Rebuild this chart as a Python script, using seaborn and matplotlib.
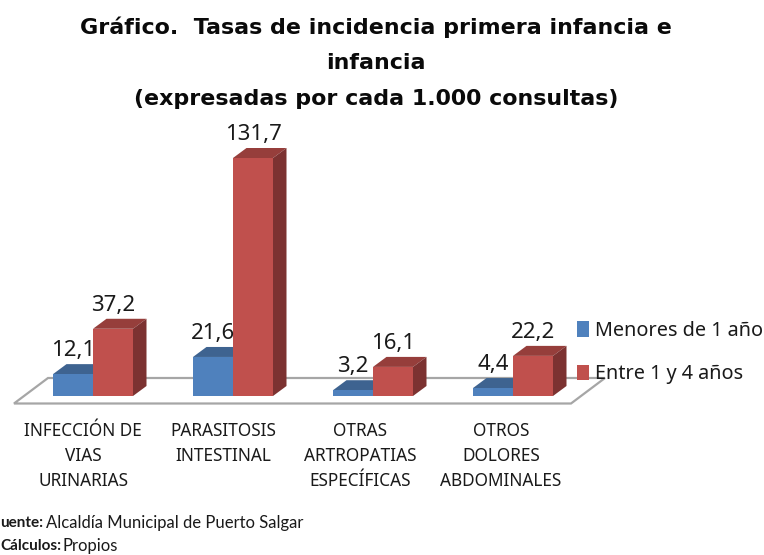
import matplotlib
matplotlib.use("Agg")
import matplotlib.pyplot as plt
from matplotlib.patches import Polygon
from matplotlib.transforms import ScaledTranslation
import pandas as pd
import seaborn as sns

categories = ["INFECCIÓN DE\nVIAS\nURINARIAS", "PARASITOSIS\nINTESTINAL\n ",
              "OTRAS\nARTROPATIAS\nESPECÍFICAS", "OTROS\nDOLORES\nABDOMINALES"]
series_names = ["Menores de 1 año", "Entre 1 y 4 años"]
menores = [12.1, 21.6, 3.2, 4.4]
entre = [37.2, 131.7, 16.1, 22.2]
labels_menores = ["12,1", "21,6", "3,2", "4,4"]
labels_entre = ["37,2", "131,7", "16,1", "22,2"]

W, H = 764, 555
FONT = "Noto Sans"
TXT = "#1a1a1a"
colors = ["#4F81BD", "#C0504D"]
top_colors = ["#3E6390", "#963E3B"]
side_colors = ["#345478", "#7C3231"]

sns.set_theme(style="white")
plt.rcParams["font.family"] = [FONT, "DejaVu Sans"]

df = pd.DataFrame({
    "cat": categories * 2,
    "val": menores + entre,
    "serie": [series_names[0]] * 4 + [series_names[1]] * 4,
})

fig = plt.figure(figsize=(W / 100, H / 100), dpi=100, facecolor="white")
ax = fig.add_axes([23 / W, (H - 396) / H, 560 / W, 253 / H])
ax.patch.set_alpha(0)

sns.barplot(data=df, x="cat", y="val", hue="serie", hue_order=series_names,
            palette=colors, saturation=1, width=80 / 140, gap=0,
            errorbar=None, ax=ax, linewidth=0, legend=True)
ax.set_xlim(-0.5, 3.5)
ax.set_ylim(0, 140)
ax.set_xlabel("")
ax.set_ylabel("")
ax.set_yticks([])
sns.despine(ax=ax, left=True, bottom=True)

# conversion of the pseudo-3D depth into data units
ux = 1 / 140      # data per pixel, x
uy = 140 / 253    # data per pixel, y
dx, dy = 13.5 * ux, 10 * uy

# floor plane
fl, fr = -0.5 + (14 - 23) * ux, -0.5 + (571 - 23) * ux
fy0 = -7.5 * uy
fy1 = 18 * uy
floor_shift = 34 * ux
ax.add_patch(Polygon([(fl, fy0), (fr, fy0), (fr + floor_shift, fy1), (fl + floor_shift, fy1)],
                     closed=True, fc="white", ec="#A6A6A6", lw=1.6, zorder=0.5, clip_on=False))

for k, (cont, lbls) in enumerate(zip(ax.containers, [labels_menores, labels_entre])):
    for bar in cont:
        x0, w, h = bar.get_x(), bar.get_width(), bar.get_height()
        top = [(x0, h), (x0 + w, h), (x0 + w + dx, h + dy), (x0 + dx, h + dy)]
        side = [(x0 + w, 0), (x0 + w + dx, dy), (x0 + w + dx, h + dy), (x0 + w, h)]
        ax.add_patch(Polygon(top, closed=True, fc=top_colors[k], ec="none", zorder=1 + k, clip_on=False))
        ax.add_patch(Polygon(side, closed=True, fc=side_colors[k], ec="none", zorder=1 + k, clip_on=False))
        bar.set_zorder(3)
        bar.set_clip_on(False)
    texts = ax.bar_label(cont, labels=lbls, padding=9.5, fontsize=16, color=TXT,
                         family=FONT, zorder=5)
    for t in texts:
        t.set_clip_on(False)

# category labels, sitting slightly left of the group centre
ax.set_xticks(range(len(categories)))
ax.set_xticklabels(categories, fontsize=12.4, color=TXT, linespacing=1.5, family=FONT)
ax.tick_params(axis="x", length=0, pad=19)
shifts = [-10, -10, -13, -12]
for lab, s in zip(ax.get_xticklabels(), shifts):
    lab.set_transform(lab.get_transform() + ScaledTranslation(s / 100, 0, fig.dpi_scale_trans))

handles, leg_labels = ax.get_legend_handles_labels()
ax.legend(handles, leg_labels, loc="upper left",
          bbox_to_anchor=(573 / W, 1 - 317 / H), bbox_transform=fig.transFigure,
          frameon=False, fontsize=14.3, handlelength=0.6, handleheight=0.8,
          handletextpad=0.3, labelspacing=1.18, borderpad=0.2, borderaxespad=0,
          labelcolor=TXT)

fig.text(376 / W, 1 - 16 / H,
         "Gráfico.  Tasas de incidencia primera infancia e\ninfancia\n(expresadas por cada 1.000 consultas)",
         ha="center", va="top", fontsize=15.9, fontweight="bold", color="#0a0a0a",
         linespacing=1.97, family="DejaVu Sans")

for x, y, s, wgt, fs in [(0, 523, "uente:", "bold", 11),
                         (46, 523, "Alcaldía Municipal de Puerto Salgar", "normal", 12),
                         (0, 546, "Cálculos:", "bold", 11),
                         (62, 546, "Propios", "normal", 12)]:
    fig.text(x / W, 1 - y / H, s, ha="left", va="center", fontsize=fs,
             fontweight=wgt, color=TXT, family="Lato")

fig.savefig("out.png", dpi=100)
